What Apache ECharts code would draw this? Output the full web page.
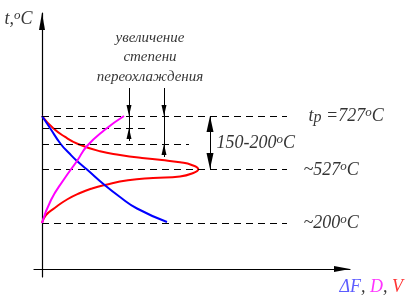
<!DOCTYPE html>
<html><head><meta charset="utf-8">
<script src="https://cdn.jsdelivr.net/npm/echarts@6/dist/echarts.min.js"></script>
<style>html,body{margin:0;padding:0;background:#fff}#c{width:418px;height:300px}</style>
</head><body><div id="c"></div>
<script>
// Schematic diagram units (not a linear temperature scale)
const levelNames = ['727', 'lvl2', 'lvl3', '527', '200'];
const levels = [153, 141, 125, 100, 46];
const levelEnds = [245, 106, 147, 245, 245];

// ΔF (free energy difference), blue
const deltaF = [[0,153],[8,141],[18.7,125],[27,116],[35,108],[45,99.5],[62,84.5],[78,72],[95,60.5],[125,47]];
// D (diffusion), magenta
const diffusion = [[0,46],[9,69],[21.5,89],[35,108],[45,123],[62.5,139],[82,153]];
// V (transformation rate), red, C-shaped
const rate = [[0,153],[11,141],[22.7,132.3],[36,125],[58,117.7],[78,114],[100,111],[120,109],[138,106.7],[149.7,104],[156.3,99.7],
              [150,95.5],[138,92.5],[111,91],[86,88.7],[63,84],[50,80.5],[38,76],[25,69.5],[12.7,61],[4,54],[0,46]];

// dimension arrows: [x, yFrom, yTo]
const arrowsSmall = [[87, 181, 153], [87, 128, 141], [122, 181, 153], [122, 112, 125]];
const arrowsPlain = [[87, 153, 141], [122, 153, 125]];
const arrowBig = [168, 153, 100];

// text annotations
const noteLines = ['увеличение', 'степени', 'переохлаждения'];
const noteY = [231, 212, 192];
const noteX = 108;
const levelLabels = [
  {pos: [266, 153], text: '{m|t}{sub|p}{m| =727}{s|o}{m|C}'},
  {pos: [174, 126], text: '{m|150-200}{s|o}{m|C}'},
  {pos: [261, 99], text: '{m|~527}{s|o}{m|C}'},
  {pos: [261, 46], text: '{m|~200}{s|o}{m|C}'},
  {pos: [297, -18], text: '{b|ΔF}{k|, }{p|D}{k|, }{r|V}'}
];
const yName = {pos: [-9, 250], text: '{m|t,}{s|o}{m|C}'};

const FF = '"Liberation Serif", "Times New Roman", serif';
const rich = {
  m: {fontFamily: FF, fontStyle: 'italic', fontSize: 18, lineHeight: 20, color: '#000'},
  s: {fontFamily: FF, fontStyle: 'italic', fontSize: 13, lineHeight: 13, color: '#000', verticalAlign: 'top'},
  sub: {fontFamily: FF, fontStyle: 'italic', fontSize: 16, lineHeight: 6, color: '#000', verticalAlign: 'bottom'},
  b: {fontFamily: FF, fontStyle: 'italic', fontSize: 18, lineHeight: 20, color: '#3333ff'},
  p: {fontFamily: FF, fontStyle: 'italic', fontSize: 18, lineHeight: 20, color: '#ff00ff'},
  r: {fontFamily: FF, fontStyle: 'italic', fontSize: 18, lineHeight: 20, color: '#ff0000'},
  k: {fontFamily: FF, fontStyle: 'italic', fontSize: 18, lineHeight: 20, color: '#000'},
  n: {fontFamily: FF, fontStyle: 'italic', fontSize: 15, lineHeight: 17, color: '#000'}
};

const dashedLines = levels.map((y, i) => [{coord: [0, y]}, {coord: [levelEnds[i], y]}]);
const SMALL = [5, 11];
const BIG = [7, 16];
const arrowLines = [];
arrowsSmall.forEach(a => arrowLines.push([
  {coord: [a[0], a[1]], symbol: 'none'},
  {coord: [a[0], a[2]], symbol: 'triangle', symbolSize: SMALL, symbolOffset: [0, SMALL[1] / 2]}
]));
arrowsPlain.forEach(a => arrowLines.push([
  {coord: [a[0], a[1]], symbol: 'none'}, {coord: [a[0], a[2]], symbol: 'none'}
]));
arrowLines.push([
  {coord: [arrowBig[0], arrowBig[1]], symbol: 'triangle', symbolSize: BIG, symbolOffset: [0, BIG[1] / 2]},
  {coord: [arrowBig[0], arrowBig[2]], symbol: 'triangle', symbolSize: BIG, symbolOffset: [0, BIG[1] / 2]}
]);

const labelData = [];
noteLines.forEach((t, i) => labelData.push({value: [noteX, noteY[i]], label: {position: 'inside', formatter: '{n|' + t + '}'}}));
levelLabels.forEach(l => labelData.push({value: l.pos, label: {position: 'right', distance: 0, formatter: l.text}}));
labelData.push({value: yName.pos, label: {position: 'left', distance: 0, formatter: yName.text}});

const chart = echarts.init(document.getElementById('c'), null, {renderer: 'canvas'});
chart.setOption({
  animation: false,
  backgroundColor: '#fff',
  grid: {left: 34, right: 68, top: 13, bottom: 23, containLabel: false},
  xAxis: {
    type: 'value', min: -8, max: 308,
    axisLine: {onZero: true, lineStyle: {color: '#000', width: 1.2}, symbol: ['none', 'triangle'], symbolSize: [6, 16], symbolOffset: [0, -8]},
    axisTick: {show: false}, axisLabel: {show: false}, splitLine: {show: false}
  },
  yAxis: {
    type: 'value', min: -8, max: 256,
    axisLine: {show: true, onZero: true, lineStyle: {color: '#000', width: 1.2}, symbol: ['none', 'triangle'], symbolSize: [6, 17], symbolOffset: [0, -8.5]},
    axisTick: {show: false}, axisLabel: {show: false}, splitLine: {show: false}
  },
  series: [
    {
      name: 'V', type: 'line', data: rate, smooth: 0.5, showSymbol: false, symbol: 'none',
      lineStyle: {color: '#ff0000', width: 2}, silent: true, z: 3,
      markLine: {silent: true, symbol: 'none', label: {show: false}, animation: false,
        lineStyle: {color: '#000', width: 1, type: [7, 5]}, data: dashedLines}
    },
    {
      name: 'ΔF', type: 'line', data: deltaF, smooth: 0.5, showSymbol: false, symbol: 'none',
      lineStyle: {color: '#0000ff', width: 2}, silent: true, z: 4,
      markLine: {silent: true, symbol: 'none', label: {show: false}, animation: false,
        lineStyle: {color: '#000', width: 1, type: 'solid'}, itemStyle: {color: '#000'}, data: arrowLines}
    },
    {
      name: 'D', type: 'line', data: diffusion, smooth: 0.5, showSymbol: false, symbol: 'none',
      lineStyle: {color: '#ff00ff', width: 2}, silent: true, z: 5
    },
    {
      name: 'labels', type: 'scatter', data: labelData, symbolSize: 1, clip: false, silent: true,
      itemStyle: {color: 'rgba(0,0,0,0)'},
      label: {show: true, rich: rich, color: '#000'}
    }
  ]
});
</script></body></html>
